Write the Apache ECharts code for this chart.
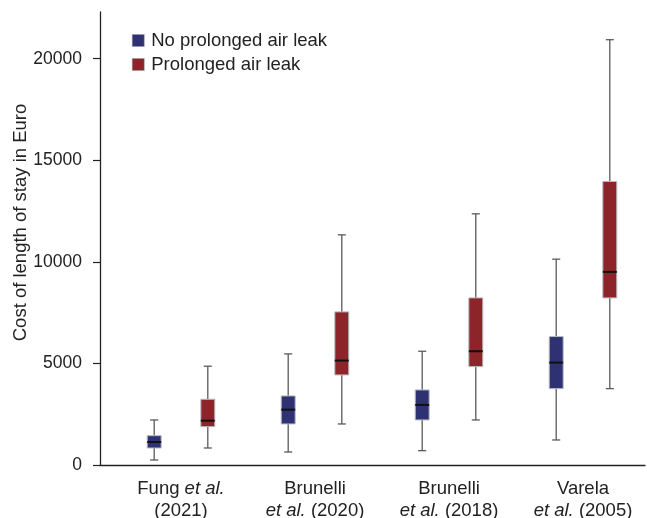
<!DOCTYPE html>
<html>
<head>
<meta charset="utf-8">
<script src="https://cdn.jsdelivr.net/npm/echarts@6/dist/echarts.min.js"></script>
<style>
html,body{margin:0;padding:0;background:#fff;}
#chart{width:647px;height:518px;}
</style>
</head>
<body>
<div id="chart"></div>
<script>
// Study labels (line 1, line 2) — "et al." in italics
const studyLine1 = ["Fung {i|et al.}", "Brunelli", "Brunelli", "Varela"];
const studyLine2 = ["(2021)", "{i|et al.} (2020)", "{i|et al.} (2018)", "{i|et al.} (2005)"];
const categories = ["Fung et al. (2021)", "Brunelli et al. (2020)", "Brunelli et al. (2018)", "Varela et al. (2005)"];
// [min, Q1, median, Q3, max] in Euro
const noLeak = [
  [246, 837, 1133, 1443, 2217],
  [640, 2020, 2725, 3399, 5468],
  [706, 2217, 2956, 3695, 5600],
  [1232, 3760, 5041, 6322, 10133]
];
const prolongedLeak = [
  [837, 1887, 2182, 3236, 4862],
  [2020, 4433, 5140, 7537, 11330],
  [2217, 4843, 5600, 8227, 12365],
  [3760, 8227, 9507, 13957, 20936]
];
const yTicks = [0, 5000, 10000, 15000, 20000];
const seriesNames = ["No prolonged air leak", "Prolonged air leak"];

const COLORS = ["#2e3172", "#8c2429"];
const FONT = "'Liberation Sans', Arial, Helvetica, sans-serif";
const TXT = "#222";

function makeRender(offsetFrac, color) {
  return function (params, api) {
    const cat = api.value(0);
    const band = api.size([1, 0])[0];
    const pMin = api.coord([cat, api.value(1)]);
    const pQ1 = api.coord([cat, api.value(2)]);
    const pMed = api.coord([cat, api.value(3)]);
    const pQ3 = api.coord([cat, api.value(4)]);
    const pMax = api.coord([cat, api.value(5)]);
    const cx = pMed[0] + offsetFrac * band;
    const hw = band * 0.052;
    const cw = band * 0.03;
    const wStyle = { stroke: "#5a5a5a", lineWidth: 1.3 };
    return {
      type: "group",
      children: [
        { type: "line", shape: { x1: cx, y1: pMax[1], x2: cx, y2: pQ3[1] }, style: wStyle },
        { type: "line", shape: { x1: cx, y1: pQ1[1], x2: cx, y2: pMin[1] }, style: wStyle },
        { type: "line", shape: { x1: cx - cw, y1: pMax[1], x2: cx + cw, y2: pMax[1] }, style: wStyle },
        { type: "line", shape: { x1: cx - cw, y1: pMin[1], x2: cx + cw, y2: pMin[1] }, style: wStyle },
        { type: "rect", shape: { x: cx - hw, y: pQ3[1], width: hw * 2, height: pQ1[1] - pQ3[1] },
          style: { fill: color, stroke: "#b9b9c4", lineWidth: 1 } },
        { type: "line", shape: { x1: cx - hw, y1: pMed[1], x2: cx + hw, y2: pMed[1] },
          style: { stroke: "#111", lineWidth: 2 } }
      ]
    };
  };
}

function toData(arr) {
  return arr.map((v, i) => [i, v[0], v[1], v[2], v[3], v[4]]);
}

const chart = echarts.init(document.getElementById("chart"), null, { renderer: "canvas" });
chart.setOption({
  animation: false,
  backgroundColor: "#fff",
  textStyle: { fontFamily: FONT },
  legend: {
    left: 127, top: 26, orient: "vertical",
    itemWidth: 12, itemHeight: 12, itemGap: 5,
    textStyle: { fontSize: 18.5, color: TXT, fontFamily: FONT, padding: [0, 0, 0, 2] },
    data: [
      { name: seriesNames[0], icon: "rect", itemStyle: { color: COLORS[0], borderColor: "#999", borderWidth: 0.5 } },
      { name: seriesNames[1], icon: "rect", itemStyle: { color: COLORS[1], borderColor: "#999", borderWidth: 0.5 } }
    ]
  },
  grid: [
    { left: 114, width: 536, top: 12, bottom: 53, outerBoundsMode: "none", containLabel: false },
    { left: 100, right: 2, top: 12, bottom: 53, outerBoundsMode: "none", containLabel: false }
  ],
  xAxis: [
    {
      gridIndex: 0, type: "category", data: categories,
      axisLine: { show: false }, axisTick: { show: false }, splitLine: { show: false },
      axisLabel: {
        interval: 0, hideOverlap: false,
        margin: 13, fontSize: 18.5, color: TXT, fontFamily: FONT, lineHeight: 22,
        formatter: function (v, i) { return studyLine1[i] + "\n" + studyLine2[i]; },
        rich: { i: { fontStyle: "italic", fontSize: 18.5, color: TXT, fontFamily: FONT, lineHeight: 22 } }
      }
    },
    {
      gridIndex: 1, type: "value", min: 0, max: 1,
      axisLine: { show: true, lineStyle: { color: "#222", width: 1.3 } },
      axisTick: { show: false }, axisLabel: { show: false }, splitLine: { show: false }
    }
  ],
  yAxis: [
    { gridIndex: 0, type: "value", min: 0, max: 22300, show: false },
    {
      gridIndex: 1, type: "value", min: 0, max: 22300,
      name: "Cost of length of stay in Euro", nameLocation: "middle", nameGap: 70,
      nameMoveOverlap: false,
      nameTextStyle: { fontSize: 18.5, color: TXT, fontFamily: FONT, padding: [0, 0, 0, 32] },
      axisLine: { show: true, lineStyle: { color: "#222", width: 1.3 } },
      axisTick: { show: true, length: 7, customValues: yTicks, lineStyle: { color: "#222", width: 1.2 } },
      axisLabel: { margin: 18, fontSize: 17.5, color: TXT, fontFamily: FONT, customValues: yTicks,
        formatter: function (v) { return String(v); } },
      splitLine: { show: false }
    }
  ],
  series: [
    {
      name: seriesNames[0], type: "custom", xAxisIndex: 0, yAxisIndex: 0,
      itemStyle: { color: COLORS[0] },
      renderItem: makeRender(-0.2, COLORS[0]),
      encode: { x: 0, y: [1, 2, 3, 4, 5] },
      data: toData(noLeak)
    },
    {
      name: seriesNames[1], type: "custom", xAxisIndex: 0, yAxisIndex: 0,
      itemStyle: { color: COLORS[1] },
      renderItem: makeRender(0.2, COLORS[1]),
      encode: { x: 0, y: [1, 2, 3, 4, 5] },
      data: toData(prolongedLeak)
    }
  ]
});
</script>
</body>
</html>
